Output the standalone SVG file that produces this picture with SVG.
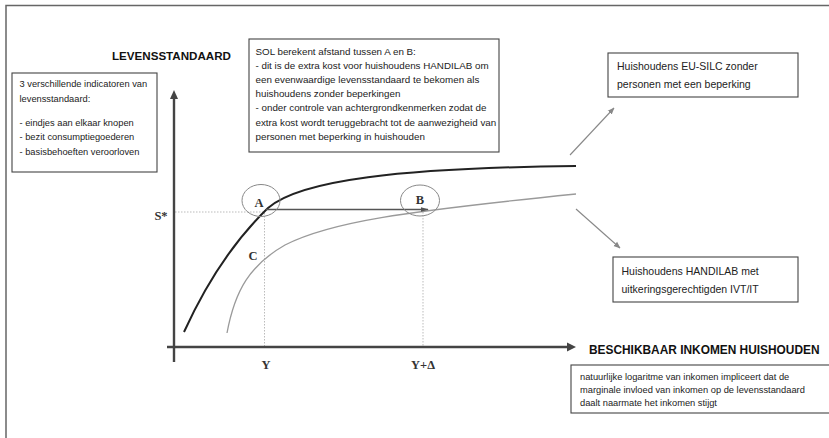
<svg xmlns="http://www.w3.org/2000/svg" width="829" height="438" viewBox="0 0 829 438">
<style>
.box{fill:#fff;stroke:#444;stroke-width:1.1}
.t{font-family:"Liberation Sans",Arial,sans-serif;fill:#222}
.s{font-size:9.3px}
.m{font-size:10.5px}
.b{font-weight:bold;font-size:11.6px;fill:#111}
.serif{font-family:"Liberation Serif","Times New Roman",serif;font-weight:bold;font-size:12.5px;fill:#333;text-anchor:middle}
.dot{stroke:#bbb;stroke-width:1;stroke-dasharray:1.5 1.5;fill:none}
.axis{stroke:#444;stroke-width:2.4;fill:none}
.ptr{stroke:#888;stroke-width:1.1;fill:none}
</style>
<defs>
<marker id="ah" viewBox="0 0 10 10" refX="9" refY="5" markerWidth="7" markerHeight="7" orient="auto" markerUnits="userSpaceOnUse"><path d="M0,1 L10,5 L0,9 z" fill="#888"/></marker>
<marker id="ah2" viewBox="0 0 10 10" refX="9" refY="5" markerWidth="8" markerHeight="8" orient="auto" markerUnits="userSpaceOnUse"><path d="M0,2 L10,5 L0,8 z" fill="#555"/></marker>
</defs>
<rect width="829" height="438" fill="#fff"/>
<g id="frame" fill="none" stroke="#666" stroke-width="1.5">
<path d="M6,438 V5.5 H829"/>
</g>
<g id="connectors">
<path class="dot" d="M175,212 H265"/>
<path class="dot" d="M264.5,210 V346"/>
<path class="dot" d="M423,212 V346"/>
<path class="axis" d="M174,362 V97"/>
<path d="M170,99 L174,90 L178,99 z" fill="#444"/>
<path class="axis" d="M167,347 H568"/>
<path d="M567,342.5 L576,347 L567,351.5 z" fill="#444"/>
<path d="M184,332 C210,275 240,235 268,208 C300,180 400,168 576,166" fill="none" stroke="#222" stroke-width="2"/>
<path d="M227,333 C235,290 250,265 285,245 C330,222 400,212 576,194" fill="none" stroke="#9a9a9a" stroke-width="1.3"/>
<path d="M266,209.5 H428" stroke="#555" stroke-width="1.6" fill="none" marker-end="url(#ah2)"/>
<path class="ptr" d="M570,155 L614,108" marker-end="url(#ah)"/>
<path class="ptr" d="M576,209 L620,248" marker-end="url(#ah)"/>
</g>
<g id="circleA">
<ellipse cx="261" cy="200.5" rx="19" ry="16" fill="none" stroke="#888" stroke-width="1"/>
<text class="serif" x="259" y="207">A</text>
</g>
<g id="circleB">
<ellipse cx="420" cy="200.5" rx="19.5" ry="15.5" fill="none" stroke="#888" stroke-width="1"/>
<text class="serif" x="420" y="204">B</text>
</g>
<g id="labels">
<text class="serif" x="161" y="220">S*</text>
<text class="serif" x="253" y="260">C</text>
<text class="serif" x="266" y="369">Y</text>
<text class="serif" x="423" y="369">Y+Δ</text>
<text class="t b" x="112" y="59.5">LEVENSSTANDAARD</text>
<text class="t b" x="589" y="353.5" style="font-size:11.9px">BESCHIKBAAR INKOMEN HUISHOUDEN</text>
</g>
<g id="indicators">
<rect class="box" x="12" y="73" width="145" height="99"/>
<text class="t s" x="19.5" y="86.5">3 verschillende indicatoren van</text>
<text class="t s" x="19.5" y="102">levensstandaard:</text>
<text class="t s" x="19.5" y="125.5">- eindjes aan elkaar knopen</text>
<text class="t s" x="19.5" y="140">- bezit consumptiegoederen</text>
<text class="t s" x="19.5" y="154.5">- basisbehoeften veroorloven</text>
</g>
<g id="sol">
<rect class="box" x="249" y="39" width="250" height="113"/>
<text class="t s" x="255.5" y="54.5" style="font-size:9.8px">SOL berekent afstand tussen A en B:</text>
<text class="t s" x="255.5" y="68.5" style="font-size:9.8px">- dit is de extra kost voor huishoudens HANDILAB om</text>
<text class="t s" x="255.5" y="83" style="font-size:9.8px">een evenwaardige levensstandaard te bekomen als</text>
<text class="t s" x="255.5" y="97" style="font-size:9.8px">huishoudens zonder beperkingen</text>
<text class="t s" x="255.5" y="111" style="font-size:9.8px">- onder controle van achtergrondkenmerken zodat de</text>
<text class="t s" x="255.5" y="125.5" style="font-size:9.8px">extra kost wordt teruggebracht tot de aanwezigheid van</text>
<text class="t s" x="255.5" y="139.5" style="font-size:9.8px">personen met beperking in huishouden</text>
</g>
<g id="eusilc">
<rect class="box" x="608" y="53" width="190" height="44"/>
<text class="t m" x="617" y="70">Huishoudens EU-SILC zonder</text>
<text class="t m" x="617" y="87.5">personen met een beperking</text>
</g>
<g id="handilab">
<rect class="box" x="613" y="257" width="185" height="45"/>
<text class="t m" x="621.5" y="275">Huishoudens HANDILAB met</text>
<text class="t m" x="621.5" y="292.5">uitkeringsgerechtigden IVT/IT</text>
</g>
<g id="note">
<rect class="box" x="571" y="365" width="262" height="48"/>
<text class="t s" x="580" y="379.5">natuurlijke logaritme van inkomen impliceert dat de</text>
<text class="t s" x="580" y="392.5">marginale invloed van inkomen op de levensstandaard</text>
<text class="t s" x="580" y="405.5">daalt naarmate het inkomen stijgt</text>
</g>
</svg>
